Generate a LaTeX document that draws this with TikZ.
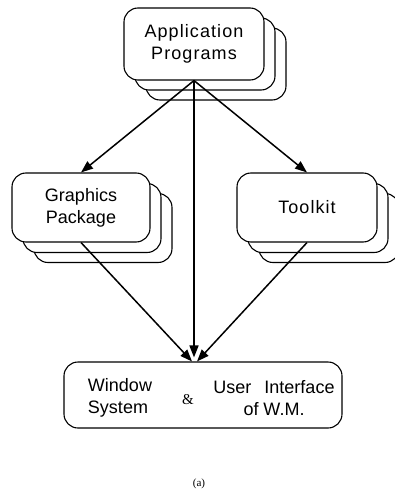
\documentclass[tikz,border=0pt]{standalone}
\usepackage{fontspec}
\setmainfont{Liberation Sans}
\newfontfamily\serifrm{Liberation Serif}
\usetikzlibrary{arrows.meta,calc}
\begin{document}
\begin{tikzpicture}[x=1pt,y=-1pt,
  card/.style={draw,line width=1.1pt,rounded corners=14pt,fill=white,inner sep=0pt,align=center,font=\fontsize{18}{22}\selectfont},
  spaced/.style={font=\fontsize{18}{22}\selectfont\addfontfeature{LetterSpace=6}},
  txt/.style={inner sep=0pt,font=\fontsize{18}{22}\selectfont},
  conn/.style={line width=1.5pt,-{Triangle[length=12pt,width=9pt]}}]
\useasboundingbox (0,0) rectangle (395,495);
% Application Programs stack
\node[card,minimum width=140pt,minimum height=72pt] (ap3) at (216,64) {};
\node[card,minimum width=140pt,minimum height=72pt] (ap2) at (205,54) {};
\node[card,spaced,minimum width=140pt,minimum height=72pt] (ap) at (194,44) {Application\\Programs};
% Graphics Package stack
\node[card,minimum width=138pt,minimum height=69pt] (gp3) at (103,228) {};
\node[card,minimum width=138pt,minimum height=69pt] (gp2) at (92,218) {};
\node[card,minimum width=138pt,minimum height=69pt] (gp) at (81,207.5) {Graphics\\Package};
% Toolkit stack
\node[card,minimum width=140pt,minimum height=69pt] (tk3) at (329,228) {};
\node[card,minimum width=140pt,minimum height=69pt] (tk2) at (318,218) {};
\node[card,spaced,minimum width=140pt,minimum height=69pt] (tk) at (307,207.5) {Toolkit};
% Window system box
\node[card,minimum width=278pt,minimum height=66pt] (win) at (203,395) {};
\node[txt,align=left] (wl) at (120,398) {Window\\System};
\node[inner sep=0pt,font=\serifrm\fontsize{15}{18}\selectfont] (amp) at (188,400) {\&};
\node[txt,align=center] (wr) at (274,398) {User\hspace{13pt}Interface\\of W.M.};
\coordinate (wt) at (ap.south |- win.north);
\coordinate (wtl) at ($(wt)+(-2,0)$);
\coordinate (wtr) at ($(wt)+(3,0)$);
\coordinate (wtv) at ($(wt)+(0,-4)$);
% connectors
\draw[conn] (ap.south) -- (gp.north);
\draw[conn] (ap.south) -- (tk.north);
\draw[conn] (ap.south) -- (wtv);
\draw[conn] (gp.south) -- (wtl);
\draw[conn] (tk.south) -- (wtr);
% caption
\node[inner sep=0pt,font=\serifrm\fontsize{11}{13}\selectfont] (cap) at (199,484) {(a)};
\end{tikzpicture}
\end{document}
